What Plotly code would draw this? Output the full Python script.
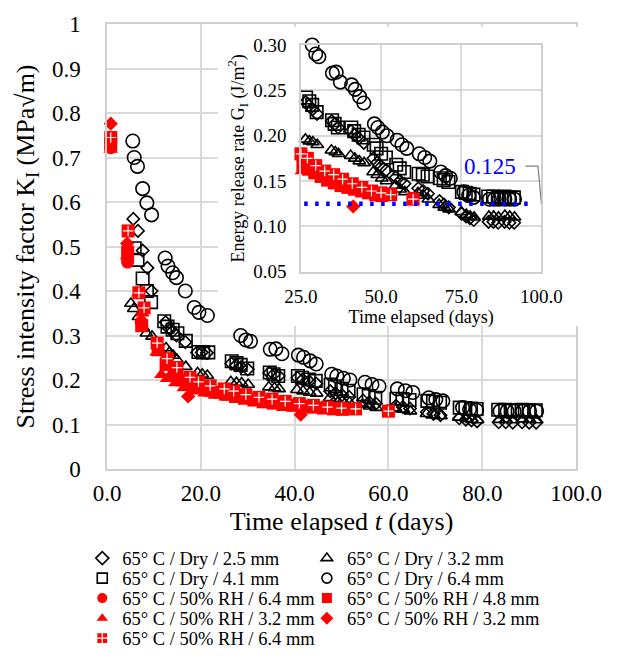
import plotly.graph_objects as go

# ---------------------------------------------------------------
# Stress intensity factor K_I (MPa√m) against elapsed time (days)
# ---------------------------------------------------------------
# 65° C / Dry / 2.5 mm
t_dry_25 = [5.6, 6.6, 7.6, 8.6, 9.5, 12.5, 13.2, 14.0, 14.8, 16.7, 19.2, 20.2, 21.3,
            26.5, 27.5, 28.6, 30.0, 34.6, 35.6, 36.6, 40.6, 41.7, 43.1, 44.6, 47.6, 48.7,
            50.1, 51.6, 54.6, 55.9, 57.3, 61.6, 63.1, 64.6, 68.2, 69.6, 71.1, 75.1, 76.5,
            77.7, 78.9, 83.5, 85.0, 86.5, 88.5, 90.0, 91.5]
k_dry_25 = [0.562, 0.535, 0.491, 0.452, 0.400, 0.330, 0.316, 0.310, 0.300, 0.285, 0.262, 0.262, 0.261,
            0.237, 0.233, 0.229, 0.224, 0.216, 0.213, 0.209, 0.205, 0.201, 0.197, 0.192, 0.175, 0.170,
            0.166, 0.162, 0.154, 0.150, 0.147, 0.142, 0.139, 0.136, 0.128, 0.124, 0.121, 0.114, 0.111,
            0.109, 0.107, 0.105, 0.105, 0.104, 0.105, 0.104, 0.104]

# 65° C / Dry / 3.2 mm
t_dry_32 = [5.1, 5.7, 6.7, 7.7, 8.4, 9.6, 12.6, 13.3, 14.1, 14.9, 16.8, 19.3, 20.3, 21.4,
            26.4, 27.6, 28.7, 30.1, 34.5, 35.7, 36.7, 40.5, 41.8, 43.2, 44.7, 47.5, 48.8,
            50.2, 51.7, 54.5, 56.0, 57.4, 61.5, 63.2, 64.7, 68.1, 69.7, 71.2, 75.0, 76.6,
            77.8, 79.0, 83.6, 85.1, 86.6, 88.6, 90.1, 91.6]
k_dry_32 = [0.372, 0.360, 0.342, 0.318, 0.305, 0.298, 0.272, 0.262, 0.255, 0.246, 0.230, 0.216, 0.213, 0.210,
            0.196, 0.194, 0.193, 0.190, 0.184, 0.182, 0.180, 0.178, 0.175, 0.172, 0.170, 0.160, 0.157,
            0.153, 0.150, 0.145, 0.141, 0.138, 0.137, 0.134, 0.130, 0.124, 0.121, 0.119, 0.116, 0.113,
            0.111, 0.110, 0.111, 0.111, 0.110, 0.112, 0.111, 0.110]

# 65° C / Dry / 4.1 mm
t_dry_41 = [5.9, 6.5, 7.6, 8.5, 9.4, 12.2, 12.9, 14.0, 15.0, 16.8, 19.5, 20.5, 21.6,
            26.6, 27.6, 28.5, 29.9, 34.7, 35.5, 36.5, 40.7, 41.6, 43.0, 44.5, 47.7, 48.6,
            50.0, 51.5, 54.7, 55.8, 57.2, 61.7, 63.0, 64.5, 68.3, 69.5, 71.0, 75.2, 76.4,
            77.6, 78.8, 83.4, 84.9, 86.4, 88.4, 89.9, 91.4]
k_dry_41 = [0.496, 0.470, 0.428, 0.400, 0.375, 0.332, 0.320, 0.313, 0.305, 0.288, 0.263, 0.262, 0.262,
            0.242, 0.238, 0.234, 0.226, 0.217, 0.213, 0.209, 0.209, 0.205, 0.201, 0.198, 0.190, 0.186,
            0.180, 0.176, 0.168, 0.164, 0.160, 0.158, 0.157, 0.155, 0.153, 0.151, 0.149, 0.138, 0.137,
            0.136, 0.135, 0.133, 0.133, 0.132, 0.133, 0.132, 0.132]

# 65° C / Dry / 6.4 mm
t_dry_64 = [5.5, 5.8, 6.5, 7.6, 8.5, 9.5, 12.4, 13.0, 14.0, 14.8, 16.7, 18.6, 19.6, 21.4,
            28.5, 29.6, 30.6, 34.8, 36.0, 37.3, 40.8, 41.9, 43.3, 44.6, 47.9, 49.0, 50.4,
            51.8, 55.0, 56.5, 58.0, 61.9, 63.6, 65.2, 68.6, 70.1, 71.6, 75.8, 77.3, 78.8,
            83.8, 85.3, 86.8, 88.6, 90.1, 91.6]
k_dry_64 = [0.737, 0.700, 0.680, 0.630, 0.598, 0.571, 0.474, 0.456, 0.441, 0.430, 0.400, 0.363, 0.352, 0.345,
            0.300, 0.290, 0.287, 0.269, 0.270, 0.259, 0.256, 0.251, 0.243, 0.236, 0.213, 0.209, 0.204,
            0.200, 0.195, 0.190, 0.186, 0.180, 0.176, 0.172, 0.160, 0.156, 0.153, 0.138, 0.134, 0.132,
            0.130, 0.130, 0.130, 0.130, 0.130, 0.130]

# 65° C / 50% RH / 6.4 mm (circles)
t_rh_64c = [0.8, 4.4, 7.3, 52.8, 59.9]
k_rh_64c = [0.722, 0.465, 0.330, 0.136, 0.131]

# 65° C / 50% RH / 4.8 mm
t_rh_48 = [0.8, 4.4, 7.4, 10.9, 12.6, 14.3, 16.0, 17.9, 19.8, 21.9, 24.0, 25.6, 27.4, 29.3,
           31.3, 33.3, 35.4, 37.5, 39.6, 41.7, 43.9, 46.1, 48.3, 50.2]
k_rh_48 = [0.730, 0.487, 0.322, 0.268, 0.235, 0.215, 0.200, 0.190, 0.183, 0.177, 0.172, 0.168, 0.163, 0.159,
           0.155, 0.151, 0.148, 0.145, 0.143, 0.141, 0.139, 0.137, 0.135, 0.134]

# 65° C / 50% RH / 3.2 mm (triangles)
t_rh_32t = [0.8, 4.3, 6.7, 7.5, 10.6, 11.6, 12.8, 14.6, 16.4, 18.7, 20.8, 23.0, 25.3]
k_rh_32t = [0.718, 0.478, 0.395, 0.350, 0.262, 0.212, 0.203, 0.193, 0.182, 0.175, 0.170, 0.165, 0.161]

# 65° C / 50% RH / 3.2 mm (diamonds)
t_rh_32d = [0.8, 4.3, 17.3, 41.3]
k_rh_32d = [0.776, 0.507, 0.163, 0.122]

# 65° C / 50% RH / 6.4 mm (crossed squares)
t_rh_64x = [0.8, 4.5, 6.8, 7.9, 10.7, 12.8, 14.9, 17.7, 19.5, 22.0, 25.0, 27.0, 29.6, 32.4,
            35.2, 38.0, 41.0, 44.0, 47.0, 50.0, 53.0, 60.0]
k_rh_64x = [0.745, 0.535, 0.396, 0.362, 0.283, 0.248, 0.228, 0.206, 0.196, 0.187, 0.180, 0.175, 0.167, 0.161,
            0.157, 0.152, 0.147, 0.143, 0.139, 0.137, 0.135, 0.130]

# threshold annotated in the inset
g_threshold = 0.125
threshold_span = [26.0, 97.5]
threshold_label_pos = (84.0, 0.1665)

# axis ranges / ticks
main_x_range, main_x_dtick = [0, 100], 20
main_y_range, main_y_dtick = [0, 1], 0.1
inset_x_range, inset_x_dtick = [25, 100], 25
inset_y_range, inset_y_dtick = [0.05, 0.30], 0.05

FONT = "Liberation Serif"
RED = "#ff0000"
BLACK = "#000000"
BLUE = "#0000ff"
GRID = "#d9d9d9"

# ---- page geometry (pixels) ----
W, H = 620, 670
ML, MR, MT, MB = 107, 33, 16, 187
PW, PH = W - ML - MR, H - MT - MB
MAIN_RIGHT_PX = 581


def px_x(px):
    return (px - ML) / PW


def px_y(py):
    return (H - MB - py) / PH


series = [
    dict(name="65° C / Dry / 2.5 mm", t=t_dry_25, k=k_dry_25,
         marker=dict(symbol="diamond-open", size=9.5, color=BLACK, line=dict(width=1.6, color=BLACK))),
    dict(name="65° C / Dry / 3.2 mm", t=t_dry_32, k=k_dry_32,
         marker=dict(symbol="triangle-up-open", size=11, color=BLACK, line=dict(width=1.6, color=BLACK))),
    dict(name="65° C / Dry / 4.1 mm", t=t_dry_41, k=k_dry_41,
         marker=dict(symbol="square-open", size=12.5, color=BLACK, line=dict(width=1.6, color=BLACK))),
    dict(name="65° C / Dry / 6.4 mm", t=t_dry_64, k=k_dry_64,
         marker=dict(symbol="circle-open", size=13.5, color=BLACK, line=dict(width=1.6, color=BLACK))),
    dict(name="65° C / 50% RH / 6.4 mm", t=t_rh_64c, k=k_rh_64c,
         marker=dict(symbol="circle", size=13, color=RED, line=dict(width=0))),
    dict(name="65° C / 50% RH / 4.8 mm", t=t_rh_48, k=k_rh_48,
         marker=dict(symbol="square", size=13, color=RED, line=dict(width=0))),
    dict(name="65° C / 50% RH / 3.2 mm", t=t_rh_32t, k=k_rh_32t,
         marker=dict(symbol="triangle-up", size=13, color=RED, line=dict(width=0))),
    dict(name="65° C / 50% RH / 3.2 mm", t=t_rh_32d, k=k_rh_32d,
         marker=dict(symbol="diamond", size=11, color=RED, line=dict(width=0))),
    dict(name="65° C / 50% RH / 6.4 mm", t=t_rh_64x, k=k_rh_64x,
         marker=dict(symbol="square", size=13, color=RED, line=dict(width=0)),
         cross=True),
]

# legend entry positions (two columns, five rows)
legend_cols_px = [82, 309]
legend_rows_px = [577, 598, 619, 640, 661]

fig = go.Figure()


def in_inset(t, k):
    return (inset_x_range[0] <= t <= inset_x_range[1]) and (inset_y_range[0] <= k <= inset_y_range[1])


cross_marker = dict(symbol="cross-thin-open", size=7.5, color="white", line=dict(width=1.2, color="white"))

for i, s in enumerate(series):
    lg = "legend" if i == 0 else f"legend{i + 1}"
    for xa, ya in (("x", "y"), ("x3", "y3")):
        if xa == "x3":
            pts = [(t, k) for t, k in zip(s["t"], s["k"]) if in_inset(t, k)]
            xs = [p[0] for p in pts]
            ys = [p[1] for p in pts]
        else:
            xs, ys = s["t"], s["k"]
        fig.add_trace(go.Scatter(
            x=xs, y=ys, mode="markers", marker=s["marker"], name=s["name"],
            xaxis=xa, yaxis=ya, showlegend=False, cliponaxis=False, hoverinfo="skip"))
        if s.get("cross"):
            fig.add_trace(go.Scatter(
                x=xs, y=ys, mode="markers", marker=cross_marker,
                xaxis=xa, yaxis=ya, showlegend=False, cliponaxis=False, hoverinfo="skip"))
    # legend entry
    m = s["marker"]
    leg_marker = dict(symbol=m["symbol"], size=10, color=m["color"], line=m["line"])
    if s.get("cross"):
        leg_marker = dict(symbol="square-cross", size=11, color=RED, line=dict(width=1.2, color="white"))
    fig.add_trace(go.Scatter(x=[None], y=[None], mode="markers", marker=leg_marker,
                             name=s["name"], legend=lg, showlegend=True))

# white backdrop behind the inset chart
fig.add_trace(go.Scatter(x=[None], y=[None], xaxis="x2", yaxis="y2", showlegend=False, hoverinfo="skip"))

axis_common = dict(showgrid=True, gridcolor=GRID, gridwidth=1.5, zeroline=False,
                   showline=True, linecolor="#cfcfcf", linewidth=1.5, mirror=True,
                   ticks="", color=BLACK)

layout = dict(
    width=W, height=H,
    margin=dict(l=ML, r=MR, t=MT, b=MB, pad=0),
    paper_bgcolor="white", plot_bgcolor="white",
    font=dict(family=FONT, color=BLACK, size=18),
    xaxis=dict(axis_common, domain=[0, px_x(MAIN_RIGHT_PX)], range=main_x_range, dtick=main_x_dtick, tick0=0,
               tickformat=".1f", tickfont=dict(size=23), anchor="y", ticklabelstandoff=3,
               title=dict(text="Time elapsed <i>t</i> (days)", font=dict(size=26), standoff=6)),
    yaxis=dict(axis_common, domain=[0, 1], range=main_y_range, dtick=main_y_dtick, tick0=0,
               tickfont=dict(size=23), anchor="x", ticklabelstandoff=20,
               title=dict(text="Stress intensity factor K<sub>I</sub> (MPa√m)", font=dict(size=26),
                          standoff=10)),
    xaxis2=dict(domain=[px_x(219), 1.0], range=[0, 1], visible=False, anchor="y2", fixedrange=True),
    yaxis2=dict(domain=[px_y(333), px_y(19)], range=[0, 1], visible=False, anchor="x2", fixedrange=True),
    xaxis3=dict(axis_common, domain=[px_x(303), px_x(546)], range=inset_x_range, dtick=inset_x_dtick,
                tick0=25, tickformat=".1f", tickfont=dict(size=19), anchor="y3", ticklabelstandoff=7,
                title=dict(text="Time elapsed (days)", font=dict(size=18), standoff=3)),
    yaxis3=dict(axis_common, domain=[px_y(276), px_y(38)], range=inset_y_range, dtick=inset_y_dtick,
                tick0=0.05, tickformat=".2f", tickfont=dict(size=19), anchor="x3", ticklabelstandoff=9,
                title=dict(text="Energy release rate G<sub>I</sub> (J/m<sup>2</sup>)", font=dict(size=18),
                           standoff=4)),
    shapes=[
        dict(type="line", xref="x3", yref="y3", x0=threshold_span[0], x1=threshold_span[1],
             y0=g_threshold, y1=g_threshold, layer="above",
             line=dict(color=BLUE, width=4.5, dash="3.5px,7.5px")),
        dict(type="path", xref="x3", yref="y3", layer="above",
             path=f"M 95.0,{threshold_label_pos[1]} L 98.9,{threshold_label_pos[1]} L 100.0,{g_threshold}",
             line=dict(color="#7f7f7f", width=1.2)),
    ],
    annotations=[
        dict(xref="x3", yref="y3", x=threshold_label_pos[0], y=threshold_label_pos[1],
             text=f"{g_threshold}", showarrow=False,
             font=dict(family=FONT, size=23, color=BLUE)),
    ],
    showlegend=True,
)

for i in range(len(series)):
    key = "legend" if i == 0 else f"legend{i + 1}"
    row, col = divmod(i, 2)
    layout[key] = dict(x=px_x(legend_cols_px[col]), y=px_y(legend_rows_px[row]),
                       xanchor="left", yanchor="middle", bgcolor="rgba(0,0,0,0)",
                       borderwidth=0, font=dict(family=FONT, size=18.5, color=BLACK),
                       itemwidth=30, orientation="v")

fig.update_layout(**layout)
fig.write_html("out.html")
